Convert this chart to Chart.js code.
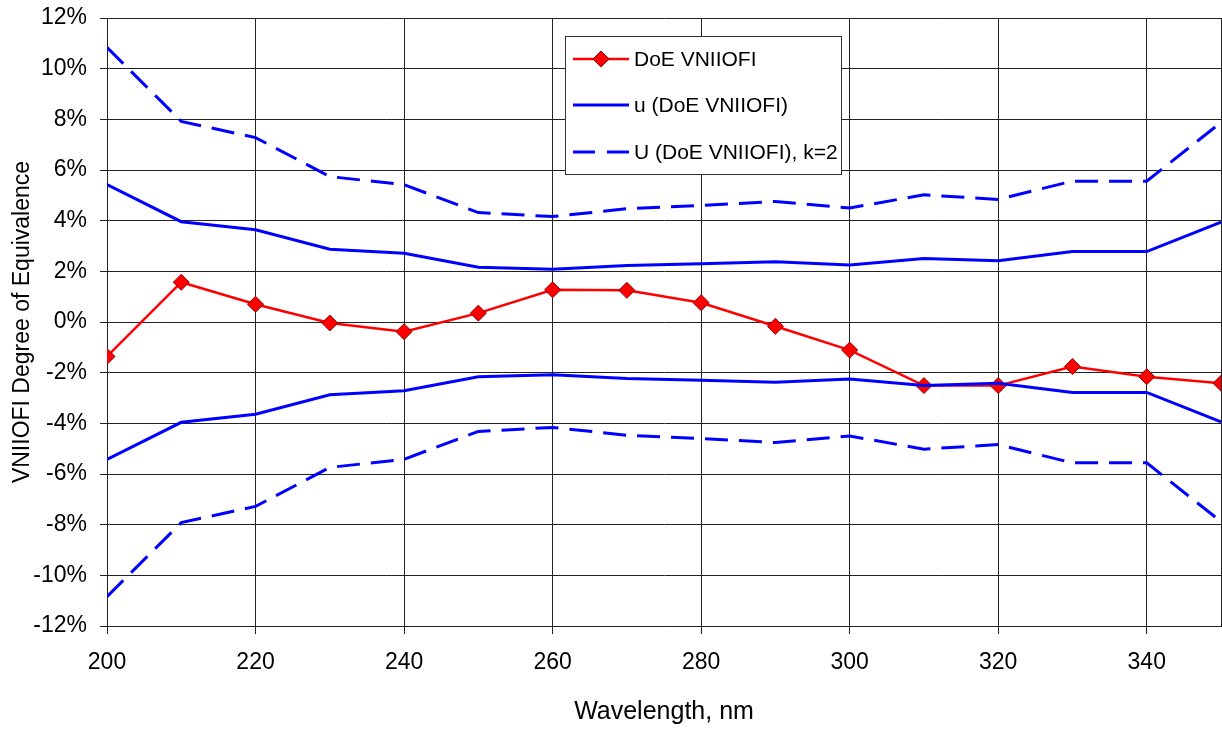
<!DOCTYPE html>
<html>
<head>
<meta charset="utf-8">
<script src="https://cdn.jsdelivr.net/npm/chart.js@4/dist/chart.umd.min.js"></script>
<style>
  html, body { margin: 0; padding: 0; background: #fff; }
  #doe-chart { display: block; }
</style>
</head>
<body>
<canvas id="doe-chart" width="1222" height="729"></canvas>
<script>
const wavelengths = [200, 210, 220, 230, 240, 250, 260, 270, 280, 290, 300, 310, 320, 330, 340, 350]

// values in %
const doeVNIIOFI = [-1.36, 1.57, 0.70, -0.04, -0.38, 0.35, 1.27, 1.25, 0.76, -0.17, -1.11, -2.51, -2.51, -1.76, -2.16, -2.42]
const uUpper = [5.42, 3.96, 3.64, 2.87, 2.71, 2.16, 2.08, 2.23, 2.30, 2.38, 2.25, 2.51, 2.42, 2.78, 2.78, 3.94]
const uLower = [-5.42, -3.96, -3.64, -2.87, -2.71, -2.16, -2.08, -2.23, -2.30, -2.38, -2.25, -2.51, -2.42, -2.78, -2.78, -3.94]
const bigUUpper = [10.84, 7.92, 7.28, 5.74, 5.42, 4.32, 4.16, 4.47, 4.60, 4.76, 4.50, 5.02, 4.84, 5.56, 5.56, 7.88]
const bigULower = [-10.84, -7.92, -7.28, -5.74, -5.42, -4.32, -4.16, -4.47, -4.60, -4.76, -4.50, -5.02, -4.84, -5.56, -5.56, -7.88]

const legendLabels = ['DoE VNIIOFI', 'u (DoE VNIIOFI)', 'U (DoE VNIIOFI), k=2']

const FONT = "'Liberation Sans', Arial, sans-serif"
const RED = '#ff0000'
const BLUE = '#0000ff'
const GRID = '#222'
const DASH = [23, 11]

function points(values) {
  return wavelengths.map((x, i) => ({ x: x, y: values[i] }))
}

function blueLine(label, values, dashed) {
  return {
    label: label,
    data: points(values),
    borderColor: BLUE,
    backgroundColor: BLUE,
    borderWidth: 3,
    borderDash: dashed ? DASH : [],
    pointRadius: 0,
    fill: false
  }
}

// legend box drawn inside the plot, like the original
const boxLegend = {
  id: 'boxLegend',
  afterDraw(chart) {
    const ctx = chart.ctx
    const box = { left: 565.5, top: 36.5, right: 841.5, bottom: 174.5 }
    const rows = [59, 105, 152]
    ctx.save()
    ctx.fillStyle = '#fff'
    ctx.fillRect(box.left, box.top, box.right - box.left, box.bottom - box.top)
    ctx.strokeStyle = '#333'
    ctx.lineWidth = 1
    ctx.strokeRect(box.left, box.top, box.right - box.left, box.bottom - box.top)

    const x0 = 573, x1 = 629
    // red line with diamond
    ctx.strokeStyle = RED
    ctx.lineWidth = 2.5
    ctx.beginPath(); ctx.moveTo(x0, rows[0]); ctx.lineTo(x1, rows[0]); ctx.stroke()
    ctx.fillStyle = RED
    ctx.strokeStyle = '#8b0000'
    ctx.lineWidth = 1
    ctx.beginPath()
    ctx.moveTo(601, rows[0] - 8); ctx.lineTo(609, rows[0]); ctx.lineTo(601, rows[0] + 8); ctx.lineTo(593, rows[0])
    ctx.closePath(); ctx.fill(); ctx.stroke()
    // blue solid
    ctx.strokeStyle = BLUE
    ctx.lineWidth = 3
    ctx.beginPath(); ctx.moveTo(x0, rows[1]); ctx.lineTo(x1, rows[1]); ctx.stroke()
    // blue dashed
    ctx.setLineDash([22, 12])
    ctx.beginPath(); ctx.moveTo(x0, rows[2]); ctx.lineTo(x1, rows[2]); ctx.stroke()
    ctx.setLineDash([])

    ctx.fillStyle = '#000'
    ctx.font = '21px ' + FONT
    ctx.textBaseline = 'middle'
    ctx.textAlign = 'left'
    legendLabels.forEach((t, i) => ctx.fillText(t, 634, rows[i] + 1))
    ctx.restore()
  }
}

const config = {
  type: 'line',
  data: {
    datasets: [
      blueLine(legendLabels[2], bigUUpper, true),
      blueLine(legendLabels[2] + ' lower', bigULower, true),
      blueLine(legendLabels[1], uUpper, false),
      blueLine(legendLabels[1] + ' lower', uLower, false),
      {
        label: legendLabels[0],
        data: points(doeVNIIOFI),
        borderColor: RED,
        backgroundColor: RED,
        borderWidth: 2.5,
        pointStyle: 'rectRot',
        pointRadius: 8,
        pointBackgroundColor: RED,
        pointBorderColor: '#8b0000',
        pointBorderWidth: 1,
        fill: false
      }
    ]
  },
  options: {
    responsive: false,
    devicePixelRatio: 1,
    animation: false,
    layout: { autoPadding: false, padding: { top: 18, right: 1, left: 0, bottom: 0 } },
    elements: { line: { tension: 0 } },
    plugins: {
      legend: { display: false },
      tooltip: { enabled: false }
    },
    scales: {
      x: {
        type: 'linear',
        min: 200,
        max: 350,
        afterFit: scale => {
          scale.height = 103
          scale.paddingLeft = 0
          scale.paddingRight = 0
        },
        ticks: {
          stepSize: 20,
          autoSkip: false,
          maxRotation: 0,
          padding: 15,
          color: '#000',
          font: { family: FONT, size: 23 },
          callback: v => (v === 350 ? '' : v)
        },
        grid: {
          color: GRID,
          lineWidth: 1,
          tickLength: 8,
          tickColor: c => (c.tick && c.tick.value === 350 ? 'rgba(0,0,0,0)' : GRID)
        },
        border: { color: GRID },
        title: {
          display: true,
          text: 'Wavelength, nm',
          color: '#000',
          font: { family: FONT, size: 25 },
          padding: { top: 4, bottom: 2 }
        }
      },
      y: {
        min: -12,
        max: 12,
        afterFit: scale => {
          scale.width = 107
          scale.paddingTop = 0
          scale.paddingBottom = 0
        },
        ticks: {
          stepSize: 2,
          padding: 13,
          color: '#000',
          font: { family: FONT, size: 23 },
          callback: v => v + '%'
        },
        grid: { color: GRID, lineWidth: 1, tickLength: 7, tickColor: GRID },
        border: { color: GRID },
        title: {
          display: true,
          text: 'VNIIOFI Degree of Equivalence',
          color: '#000',
          font: { family: FONT, size: 23 },
          padding: { top: 9, bottom: 0 }
        }
      }
    }
  },
  plugins: [boxLegend]
}

const chart = new Chart(document.getElementById('doe-chart'), config)
</script>
</body>
</html>
